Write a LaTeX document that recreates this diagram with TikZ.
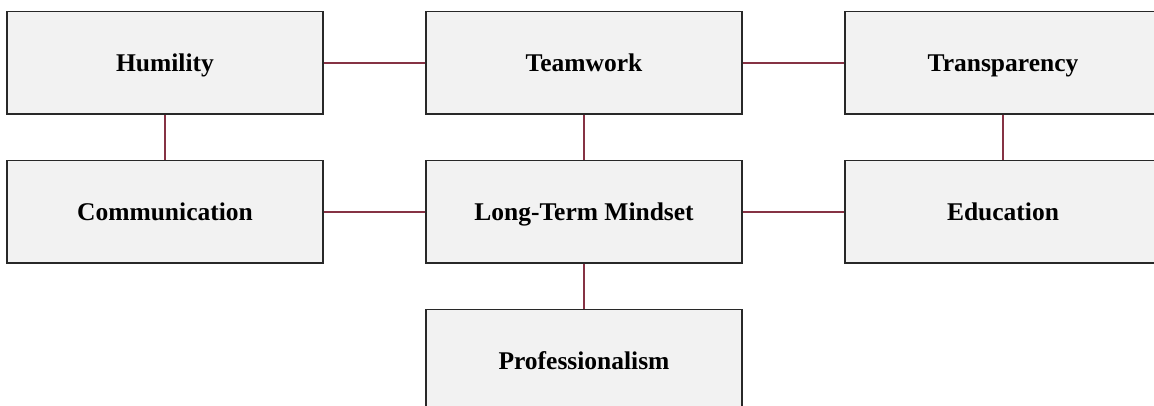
\documentclass[tikz,border=0pt]{standalone}
\usepackage{fontspec}
\setmainfont{Liberation Serif}
\definecolor{boxfill}{RGB}{242,242,242}
\definecolor{boxline}{RGB}{40,40,40}
\definecolor{link}{RGB}{134,50,68}
\begin{document}
\begin{tikzpicture}[x=1pt,y=-1pt,
  box/.style={draw=boxline,fill=boxfill,line width=1.3pt,minimum width=316pt,minimum height=102.5pt,inner sep=0pt,text height=16.5pt,text depth=0pt,font=\fontsize{25.5}{28}\selectfont\bfseries},
  conn/.style={draw=link,line width=2pt}]
\useasboundingbox (0,0) rectangle (1154,405);
\clip (0,0) rectangle (1154,405);
\node[box] (hum) at (165,62.75) {Humility};
\node[box] (team) at (584,62.75) {Teamwork};
\node[box] (trans) at (1003,62.75) {Transparency};
\node[box] (comm) at (165,211.75) {Communication};
\node[box] (ltm) at (584,211.75) {Long-Term Mindset};
\node[box] (edu) at (1003,211.75) {Education};
\node[box] (prof) at (584,360.75) {Professionalism};
\draw[conn] (hum) -- (team);
\draw[conn] (team) -- (trans);
\draw[conn] (comm) -- (ltm);
\draw[conn] (ltm) -- (edu);
\draw[conn] (hum) -- (comm);
\draw[conn] (team) -- (ltm);
\draw[conn] (trans) -- (edu);
\draw[conn] (ltm) -- (prof);
\end{tikzpicture}
\end{document}
